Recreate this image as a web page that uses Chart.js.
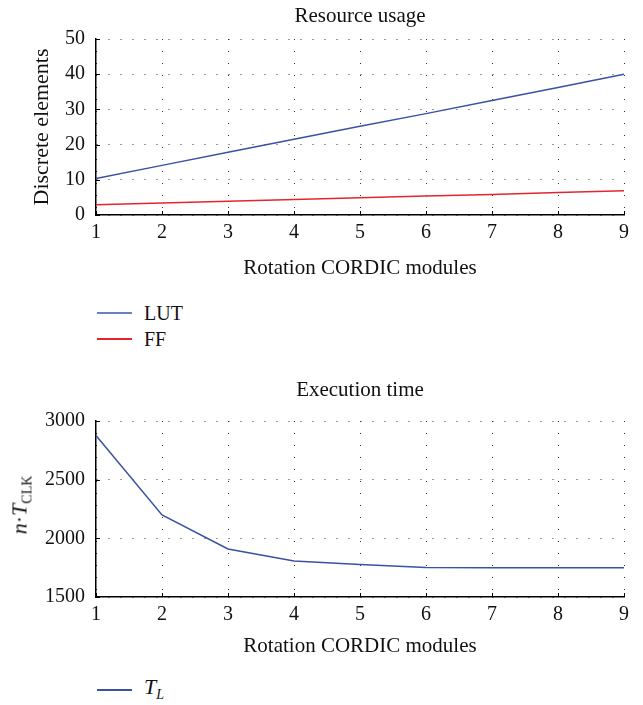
<!DOCTYPE html>
<html>
<head>
<meta charset="utf-8">
<script src="https://cdn.jsdelivr.net/npm/chart.js@4.4.1/dist/chart.umd.min.js"></script>
<style>
  html, body { margin: 0; padding: 0; background: #fff; }
  body { width: 643px; height: 705px; position: relative; overflow: hidden; font-family: "Liberation Serif", "DejaVu Serif", serif; color: #111; }
  .cv { position: absolute; left: 0; }
  .legend { position: absolute; left: 97px; font-size: 20px; }
  .legend .item { position: absolute; left: 0; white-space: nowrap; height: 0; }
  .legend .swatch { position: absolute; left: 0; width: 35px; height: 1.5px; top: -1px; display: block; }
  .legend .lbl { position: absolute; left: 47px; top: -12px; line-height: 24px; }
  .ytitle { position: absolute; font-size: 22px; white-space: nowrap; transform: translate(-50%, -50%) rotate(-90deg); }
  sub { font-size: 14px; vertical-align: -5px; font-style: normal; }
</style>
</head>
<body>
<canvas id="c1" class="cv" width="643" height="290" style="top:0px;width:643px;height:290px"></canvas>
<canvas id="c2" class="cv" width="643" height="298" style="top:370px;width:643px;height:298px"></canvas>

<div class="legend" style="top:313px">
  <div class="item" style="top:0px"><span class="swatch" style="background-color:#6b7fc1"></span><span class="lbl">LUT</span></div>
  <div class="item" style="top:26px"><span class="swatch" style="background-color:#e3262e"></span><span class="lbl">FF</span></div>
</div>
<div class="legend" style="top:690px">
  <div class="item" style="top:0px"><span class="swatch" style="background-color:#3a52a3"></span><span class="lbl" style="top:-15px; font-size:22px"><i>T</i><sub><i>L</i></sub></span></div>
</div>
<div class="ytitle" style="left:21px; top:505px"><i>n</i>·<i>T</i><sub>CLK</sub></div>

<script>
// ---- data ----
const categories = ['1', '2', '3', '4', '5', '6', '7', '8', '9'];
const lutValues = [10.4, 14.1, 17.8, 21.5, 25.2, 28.8, 32.5, 36.2, 40.0];
const ffValues  = [2.9, 3.4, 3.9, 4.4, 4.9, 5.4, 5.85, 6.4, 6.9];
const tlValues  = [2877, 2200, 1909, 1806, 1777, 1751, 1750, 1750, 1750];
const resourceTicks = [0, 10, 20, 30, 40, 50];
const timeTicks = [1500, 2000, 2500, 3000];

const BLUE = '#3a52a3';
const RED = '#e3262e';
const FONT = "'Liberation Serif', 'DejaVu Serif', serif";

Chart.defaults.font.family = FONT;
Chart.defaults.color = '#111';
Chart.defaults.animation = false;

const inwardTicks = {
  id: 'inwardTicks',
  afterDraw(chart) {
    const { ctx, scales: { x, y }, chartArea } = chart;
    ctx.save();
    ctx.strokeStyle = '#000';
    ctx.lineWidth = 1;
    ctx.beginPath();
    x.ticks.forEach((t, i) => {
      const px = Math.round(x.getPixelForTick(i)) + 0.5;
      ctx.moveTo(px, chartArea.bottom);
      ctx.lineTo(px, chartArea.bottom - 4);
    });
    y.ticks.forEach((t, i) => {
      const py = Math.round(y.getPixelForTick(i)) + 0.5;
      ctx.moveTo(chartArea.left, py);
      ctx.lineTo(chartArea.left + 4, py);
    });
    ctx.stroke();
    ctx.restore();
  }
};

function makeChart(id, cfg) {
  return new Chart(document.getElementById(id), {
    type: 'line',
    data: { labels: categories, datasets: cfg.datasets },
    options: {
      responsive: false,
      animation: false,
      layout: { padding: { left: 0, right: 19, top: 0, bottom: 0 } },
      plugins: {
        legend: { display: false },
        tooltip: { enabled: false },
        title: {
          display: true,
          fullSize: false,
          text: cfg.title,
          color: '#111',
          font: { family: FONT, size: 21, weight: 'normal', lineHeight: 1.2 },
          padding: cfg.titlePadding
        }
      },
      elements: { point: { radius: 0 }, line: { tension: 0, borderWidth: 1.5 } },
      scales: {
        x: {
          type: 'category',
          offset: false,
          grid: { display: true, color: '#333', lineWidth: 1, drawTicks: false, offset: false },
          border: { display: true, color: '#000', width: 1.5, dash: [1, 11] },
          ticks: { padding: 6, color: '#111', font: { family: FONT, size: 20 }, maxRotation: 0, autoSkip: false },
          title: {
            display: true, text: 'Rotation CORDIC modules', color: '#111',
            font: { family: FONT, size: 21, lineHeight: 1.2 },
            padding: { top: 0, bottom: 9.4 }
          },
          afterFit(s) { s.height = cfg.xHeight; }
        },
        y: {
          min: cfg.yTicks[0],
          max: cfg.yTicks[cfg.yTicks.length - 1],
          afterBuildTicks(s) { s.ticks = cfg.yTicks.map(v => ({ value: v })); },
          grid: { display: true, color: '#333', lineWidth: 1, drawTicks: false },
          border: { display: true, color: '#000', width: 1.5, dash: [1, 11] },
          ticks: {
            padding: 11, color: '#111', font: { family: FONT, size: 20 },
            callback: (v) => String(v)
          },
          title: {
            display: !!cfg.yTitle, text: cfg.yTitle || '', color: '#111',
            font: { family: FONT, size: 22, lineHeight: 1.2 },
            padding: { top: 28.8, bottom: 0 }
          },
          afterFit(s) { s.width = 96; }
        }
      }
    },
    plugins: [inwardTicks]
  });
}

makeChart('c1', {
  title: 'Resource usage',
  titlePadding: { top: 3.4, bottom: 10.4 },
  xHeight: 75,
  yTicks: resourceTicks,
  yTitle: 'Discrete elements',
  datasets: [
    { label: 'LUT', data: lutValues, borderColor: BLUE, backgroundColor: BLUE, fill: false },
    { label: 'FF', data: ffValues, borderColor: RED, backgroundColor: RED, fill: false }
  ]
});

makeChart('c2', {
  title: 'Execution time',
  titlePadding: { top: 7.4, bottom: 18.4 },
  xHeight: 71,
  yTicks: timeTicks,
  yTitle: '',
  datasets: [
    { label: 'T_L', data: tlValues, borderColor: BLUE, backgroundColor: BLUE, fill: false }
  ]
});
</script>
</body>
</html>
